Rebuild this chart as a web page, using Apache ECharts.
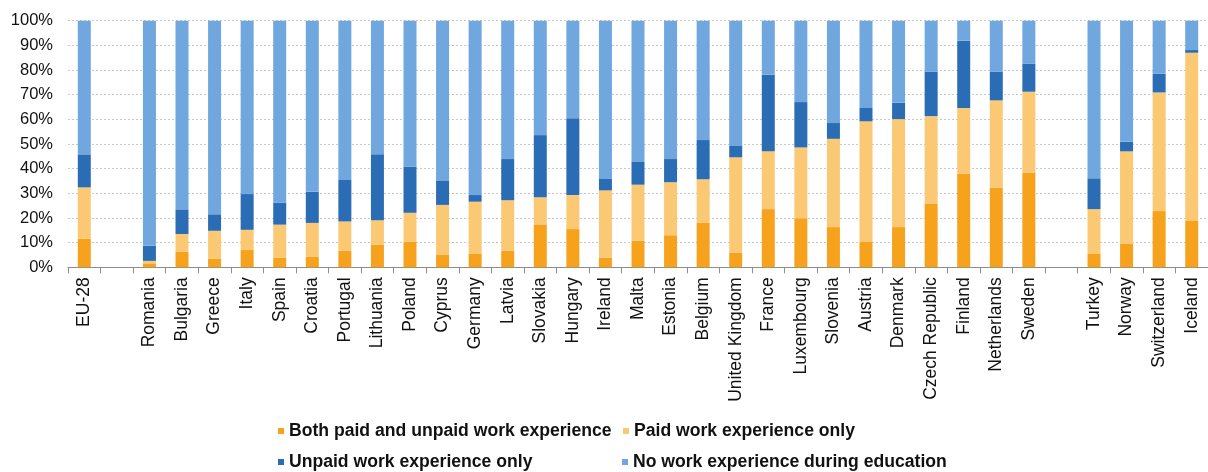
<!DOCTYPE html>
<html>
<head>
<meta charset="utf-8">
<script src="https://cdn.jsdelivr.net/npm/echarts@6/dist/echarts.min.js"></script>
<style>
  html, body { margin: 0; padding: 0; background: #fff; }
  #chart { width: 1208px; height: 472px; }
</style>
</head>
<body>
<div id="chart"></div>
<script>
// Countries, with empty slots separating the EU aggregate and the non-EU group
const countries = ['EU-28', '',
  'Romania', 'Bulgaria', 'Greece', 'Italy', 'Spain', 'Croatia', 'Portugal', 'Lithuania',
  'Poland', 'Cyprus', 'Germany', 'Latvia', 'Slovakia', 'Hungary', 'Ireland', 'Malta',
  'Estonia', 'Belgium', 'United Kingdom', 'France', 'Luxembourg', 'Slovenia', 'Austria',
  'Denmark', 'Czech Republic', 'Finland', 'Netherlands', 'Sweden', '',
  'Turkey', 'Norway', 'Switzerland', 'Iceland'];

// Shares (%) of each type of work experience during education
const bothPaidUnpaid = [11.6, '-',
  1.6, 6.3, 3.5, 7.0, 3.9, 4.2, 6.7, 9.2,
  10.4, 5.0, 5.4, 6.7, 17.4, 15.5, 3.9, 10.8,
  13.0, 18.1, 5.9, 23.6, 19.9, 16.3, 10.5,
  16.3, 25.7, 37.9, 32.3, 38.3, '-',
  5.4, 9.6, 22.8, 18.8];

const paidOnly = [20.8, '-',
  1.0, 7.2, 11.3, 8.2, 13.4, 13.8, 11.9, 9.9,
  11.7, 20.3, 21.2, 20.5, 11.0, 13.8, 27.3, 22.7,
  21.5, 17.6, 38.7, 23.5, 28.7, 35.8, 48.7,
  43.8, 35.6, 26.7, 35.4, 32.9, '-',
  18.2, 37.4, 48.1, 68.2];

const unpaidOnly = [13.4, '-',
  6.2, 10.0, 6.7, 14.5, 8.9, 12.6, 16.8, 26.7,
  18.7, 9.7, 2.7, 16.7, 25.2, 31.1, 4.6, 9.2,
  9.4, 15.9, 4.6, 31.0, 18.4, 6.4, 5.4,
  6.6, 18.1, 27.3, 11.7, 11.3, '-',
  12.5, 3.9, 7.6, 1.1];

const noExperience = [54.2, '-',
  91.2, 76.5, 78.5, 70.3, 73.8, 69.4, 64.6, 54.2,
  59.2, 65.0, 70.7, 56.1, 46.4, 39.6, 64.2, 57.3,
  56.1, 48.4, 50.8, 21.9, 33.0, 41.5, 35.4,
  33.3, 20.6, 8.1, 20.6, 17.5, '-',
  63.9, 49.1, 21.5, 11.9];

const yTicks = [0, 10, 20, 30, 40, 50, 60, 70, 80, 90, 100];

const seriesNames = [
  'Both paid and unpaid work experience',
  'Paid work experience only',
  'Unpaid work experience only',
  'No work experience during education'
];
const seriesColors = ['#F7A21C', '#FBC873', '#2B6DB4', '#6FA7DE'];
const seriesData = [bothPaidUnpaid, paidOnly, unpaidOnly, noExperience];

const FONT = '"Liberation Sans", Arial, sans-serif';

function legendAt(name, left, top) {
  return {
    data: [name],
    left: left,
    top: top,
    padding: 0,
    itemWidth: 6,
    itemHeight: 6,
    icon: 'rect',
    selectedMode: false,
    textStyle: {
      fontFamily: FONT,
      fontSize: 17.6,
      fontWeight: 'bold',
      color: '#111',
      lineHeight: 20
    }
  };
}

const chart = echarts.init(document.getElementById('chart'), null, { renderer: 'canvas' });

chart.setOption({
  animation: false,
  backgroundColor: '#fff',
  grid: { left: 68, right: -1, top: 20.7, bottom: 204.7, containLabel: false },
  legend: [
    legendAt(seriesNames[0], 278, 421),
    legendAt(seriesNames[1], 623, 421),
    legendAt(seriesNames[2], 278, 452),
    legendAt(seriesNames[3], 622, 452)
  ],
  xAxis: {
    type: 'category',
    data: countries,
    boundaryGap: true,
    axisLine: { lineStyle: { color: '#8c8c8c', width: 1 } },
    axisTick: { show: true, length: 6, interval: 0, lineStyle: { color: '#8c8c8c' } },
    axisLabel: {
      interval: 0,
      rotate: 90,
      margin: 10,
      fontFamily: FONT,
      fontSize: 17.5,
      color: '#111'
    }
  },
  yAxis: {
    type: 'value',
    min: yTicks[0],
    max: yTicks[yTicks.length - 1],
    interval: yTicks[1] - yTicks[0],
    axisLine: { show: false },
    axisTick: { show: false },
    axisLabel: {
      margin: 15,
      fontFamily: FONT,
      fontSize: 16.5,
      color: '#111',
      formatter: v => v + '%'
    },
    splitLine: { lineStyle: { color: '#c8c8c8', type: [2, 2], width: 1 } }
  },
  series: seriesNames.map((name, i) => ({
    name: name,
    type: 'bar',
    stack: 'share',
    barWidth: 13,
    data: seriesData[i],
    itemStyle: { color: seriesColors[i] },
    emphasis: { disabled: true }
  }))
});
</script>
</body>
</html>
